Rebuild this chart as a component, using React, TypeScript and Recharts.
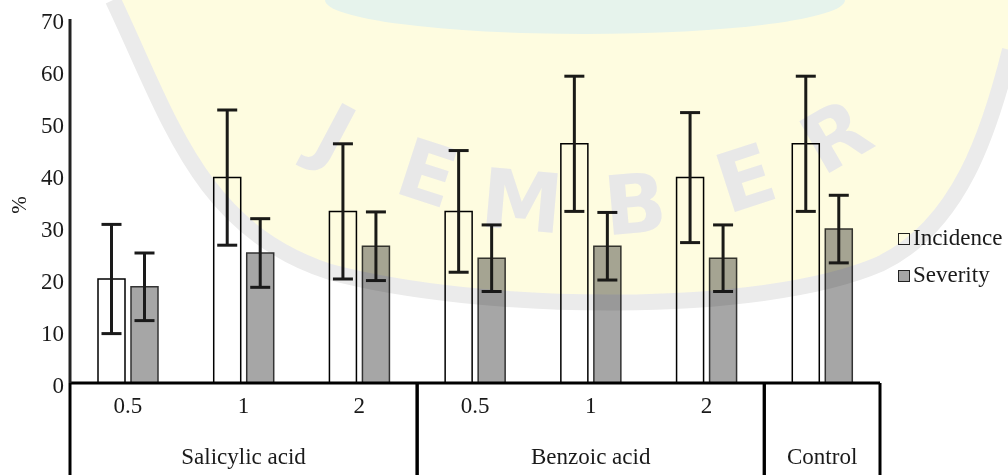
import React from 'react';
import { BarChart, Bar, XAxis, YAxis, ErrorBar } from 'recharts';

// values (%), mean ± error
const doses = ['0.5', '1', '2', '0.5', '1', '2', ''];
const treatments = [
  'Salicylic acid', 'Salicylic acid', 'Salicylic acid',
  'Benzoic acid', 'Benzoic acid', 'Benzoic acid',
  'Control',
];
const incidence = [20, 39.5, 33, 33, 46, 39.5, 46];
const incidenceErr = [10.5, 13, 13, 11.7, 13, 12.5, 13];
const severity = [18.5, 25, 26.3, 24, 26.3, 24, 29.6];
const severityErr = [6.5, 6.6, 6.6, 6.4, 6.5, 6.4, 6.5];
const yTicks = [0, 10, 20, 30, 40, 50, 60, 70];
const seriesNames = ['Incidence', 'Severity'];

const data = doses.map((d, i) => ({
  key: `${treatments[i]}|${d}`,
  Incidence: incidence[i],
  incErr: incidenceErr[i],
  Severity: severity[i],
  sevErr: severityErr[i],
}));

const FONT = "'Liberation Serif', 'Times New Roman', serif";
const INK = '#1a1a1a';
const GREY = '#a6a6a6';
const fills: Record<string, string> = { Incidence: '#fff', Severity: GREY };

const TwoLevelTick = (props: any) => {
  const { x, y, payload } = props;
  const i: number = props.index ?? payload.index;
  const half: number = payload.offset ?? props.width / treatments.length / 2;
  const t = treatments[i];
  let firstIdx = i;
  while (firstIdx > 0 && treatments[firstIdx - 1] === t) firstIdx--;
  const members = treatments.filter((v) => v === t).length;
  const isFirst = i === firstIdx;
  const isLast = i === treatments.length - 1 || treatments[i + 1] !== t;
  const groupCenter = x + (firstIdx + (members - 1) / 2 - i) * 2 * half;
  return (
    <g>
      <text x={x} y={y + 30} textAnchor="middle" fontSize={23} fill={INK} fontFamily={FONT}>
        {doses[i]}
      </text>
      {isFirst && (
        <line x1={x - half} x2={x - half} y1={y} y2={y + 95} stroke="#000" strokeWidth={3} />
      )}
      {isLast && (
        <line x1={x + half} x2={x + half} y1={y} y2={y + 95} stroke="#000" strokeWidth={3} />
      )}
      {isFirst && (
        <text x={groupCenter} y={y + 81} textAnchor="middle" fontSize={23} fill={INK} fontFamily={FONT}>
          {t}
        </text>
      )}
    </g>
  );
};

const LegendBox = () => (
  <div
    style={{
      position: 'absolute',
      left: 898,
      top: 219,
      fontFamily: FONT,
      fontSize: 23,
      lineHeight: '37px',
      color: INK,
    }}
  >
    {seriesNames.map((name) => (
      <div key={name} style={{ display: 'flex', alignItems: 'center' }}>
        <span
          style={{
            display: 'inline-block',
            width: 10,
            height: 10,
            marginRight: 3,
            marginTop: 3,
            background: fills[name],
            border: '1.5px solid #222',
          }}
        />
        <span>{name}</span>
      </div>
    ))}
  </div>
);

const Watermark = () => {
  const ring =
    'M 113 0 C 170 120 200 230 330 272 C 480 312 760 316 880 264 C 960 226 990 130 1010 50';
  const letters = [
    { ch: 'J', x: 335, y: 133, r: 28 },
    { ch: 'E', x: 428, y: 172, r: 18 },
    { ch: 'M', x: 522, y: 200, r: 5 },
    { ch: 'B', x: 635, y: 203, r: -5 },
    { ch: 'E', x: 745, y: 177, r: -18 },
    { ch: 'R', x: 835, y: 135, r: -30 },
  ];
  return (
    <svg
      width={1008}
      height={475}
      style={{ position: 'absolute', left: 0, top: 0, pointerEvents: 'none', mixBlendMode: 'multiply' }}
    >
      <path d={`${ring} L 1010 0 Z`} fill="#fefce0" />
      <ellipse cx={585} cy={0} rx={260} ry={34} fill="#e6f3ec" />
      <path d={ring} fill="none" stroke="#ebebeb" strokeWidth={16} />
      {letters.map((l, i) => (
        <text
          key={i}
          x={l.x}
          y={l.y + 30}
          textAnchor="middle"
          fontSize={82}
          fontWeight="bold"
          fontFamily="'DejaVu Sans', sans-serif"
          fill="#e8e8e8"
          transform={`rotate(${l.r} ${l.x} ${l.y})`}
        >
          {l.ch}
        </text>
      ))}
    </svg>
  );
};

export default function App() {
  return (
    <div style={{ position: 'absolute', left: 0, top: 0, width: 1008, height: 475, background: '#fff' }}>
      <BarChart
        width={1008}
        height={475}
        data={data}
        margin={{ top: 19, right: 128, bottom: 0, left: 0 }}
        barSize={27}
        barGap={6}
        style={{ fontFamily: FONT }}
      >
        <XAxis
          dataKey="key"
          height={92}
          interval={0}
          tickLine={false}
          tickSize={0}
          tickMargin={0}
          axisLine={{ stroke: '#000', strokeWidth: 3 }}
          tick={<TwoLevelTick />}
        />
        <YAxis
          width={70}
          domain={[0, 70]}
          ticks={yTicks}
          interval={0}
          tickLine={false}
          tickSize={0}
          tickMargin={6}
          axisLine={{ stroke: '#222', strokeWidth: 3 }}
          tick={{ fontSize: 23, fill: INK, fontFamily: FONT, dy: 2 }}
          label={(p: any) => {
            const vb = p.viewBox;
            const cx = vb.x + 19;
            const cy = vb.y + vb.height / 2 + 4;
            return (
              <text
                x={cx}
                y={cy}
                textAnchor="middle"
                dominantBaseline="central"
                fontSize={21}
                fill={INK}
                fontFamily={FONT}
                transform={`rotate(-90 ${cx} ${cy})`}
              >
                %
              </text>
            );
          }}
        />
        <Bar dataKey="Incidence" fill={fills.Incidence} stroke="#000" strokeWidth={1.5} isAnimationActive={false}>
          <ErrorBar dataKey="incErr" width={10} strokeWidth={3} stroke={INK} direction="y" isAnimationActive={false} />
        </Bar>
        <Bar dataKey="Severity" fill={fills.Severity} stroke="#333" strokeWidth={1.5} isAnimationActive={false}>
          <ErrorBar dataKey="sevErr" width={10} strokeWidth={3} stroke={INK} direction="y" isAnimationActive={false} />
        </Bar>
      </BarChart>
      <LegendBox />
      <Watermark />
    </div>
  );
}
